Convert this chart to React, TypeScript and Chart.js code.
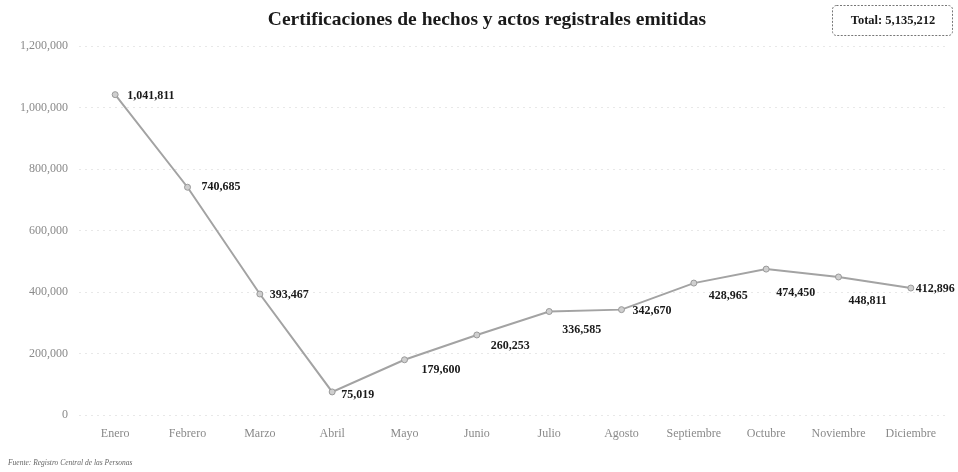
import React, { useEffect, useRef } from "react";
import { Chart, registerables } from "chart.js";

Chart.register(...registerables);

const months = ["Enero", "Febrero", "Marzo", "Abril", "Mayo", "Junio", "Julio", "Agosto", "Septiembre", "Octubre", "Noviembre", "Diciembre"];
const values = [1041811, 740685, 393467, 75019, 179600, 260253, 336585, 342670, 428965, 474450, 448811, 412896];
const yTicks = [0, 200000, 400000, 600000, 800000, 1000000, 1200000];
const titleText = "Certificaciones de hechos y actos registrales emitidas";
const totalText = "Total: 5,135,212";
const sourceText = "Fuente: Registro Central de las Personas";

// label placement relative to each point: [dx, dy]
const labelPlacement: [number, number][] = [
  [12, 1], [14, 0], [10, 1], [9, 3],
  [17, 10], [14, 11], [13, 18], [11, 1],
  [15, 13], [10, 24], [10, 24], [5, 1],
];

const fmt = (v: number) => v.toLocaleString("en-US");
const serif = "'Liberation Serif', 'DejaVu Serif', serif";

const decor = {
  id: "decor",
  afterDatasetsDraw(chart: any) {
    const ctx = chart.ctx;
    const meta = chart.getDatasetMeta(0);
    ctx.save();
    ctx.font = `bold 12px ${serif}`;
    ctx.fillStyle = "#1a1a1a";
    ctx.textBaseline = "middle";
    ctx.textAlign = "left";
    meta.data.forEach((pt: any, i: number) => {
      const [dx, dy] = labelPlacement[i];
      ctx.fillText(fmt(values[i]), pt.x + dx, pt.y + dy);
    });
    ctx.restore();
  },
  afterDraw(chart: any) {
    const ctx = chart.ctx;
    ctx.save();
    ctx.fillStyle = "#1a1a1a";
    ctx.font = `bold 19.5px ${serif}`;
    ctx.textAlign = "center";
    ctx.textBaseline = "middle";
    ctx.fillText(titleText, 487, 20);

    // total box
    const bx = 832, by = 5, bw = 120, bh = 30;
    ctx.strokeStyle = "#777";
    ctx.lineWidth = 1;
    ctx.setLineDash([2, 1.5]);
    ctx.beginPath();
    (ctx as any).roundRect(bx + 0.5, by + 0.5, bw, bh, 4);
    ctx.stroke();
    ctx.setLineDash([]);
    ctx.font = `bold 12.5px ${serif}`;
    ctx.fillText(totalText, bx + bw / 2 + 1, by + bh / 2 + 1);

    ctx.font = `italic 7.5px ${serif}`;
    ctx.fillStyle = "#666";
    ctx.textAlign = "left";
    ctx.fillText(sourceText, 8, 463);
    ctx.restore();
  },
};

export default function App() {
  const ref = useRef<HTMLCanvasElement>(null);
  useEffect(() => {
    document.body.style.margin = "0";
    const chart = new Chart(ref.current!, {
      type: "line",
      data: {
        labels: months,
        datasets: [
          {
            data: values,
            borderColor: "#a3a3a3",
            borderWidth: 2,
            pointRadius: 3,
            pointBackgroundColor: "#cfcfcf",
            pointBorderColor: "#999",
            pointBorderWidth: 1,
            tension: 0,
          },
        ],
      },
      options: {
        animation: false,
        responsive: false,
        layout: { padding: { top: 46, right: 11, left: 0, bottom: 0 } },
        plugins: { legend: { display: false }, tooltip: { enabled: false } },
        scales: {
          x: {
            offset: true,
            grid: { display: false, drawTicks: false },
            border: { display: false },
            ticks: { color: "#8a8a8a", font: { family: serif, size: 12 }, padding: 12, maxRotation: 0, autoSkip: false },
            afterFit: (s: any) => { s.height = 57; },
          },
          y: {
            min: 0,
            max: 1200000,
            afterBuildTicks: (s: any) => { s.ticks = yTicks.map((v) => ({ value: v })); },
            grid: { color: "rgba(0,0,0,0.09)", drawTicks: false },
            border: { display: false, dash: [2, 4] },
            ticks: { color: "#8a8a8a", font: { family: serif, size: 12 }, padding: 11, callback: (v: any) => fmt(Number(v)) },
            afterFit: (s: any) => { s.width = 79; },
          },
        },
      },
      plugins: [decor],
    });
    return () => chart.destroy();
  }, []);
  return <canvas ref={ref} width={958} height={472} style={{ display: "block" }} />;
}
